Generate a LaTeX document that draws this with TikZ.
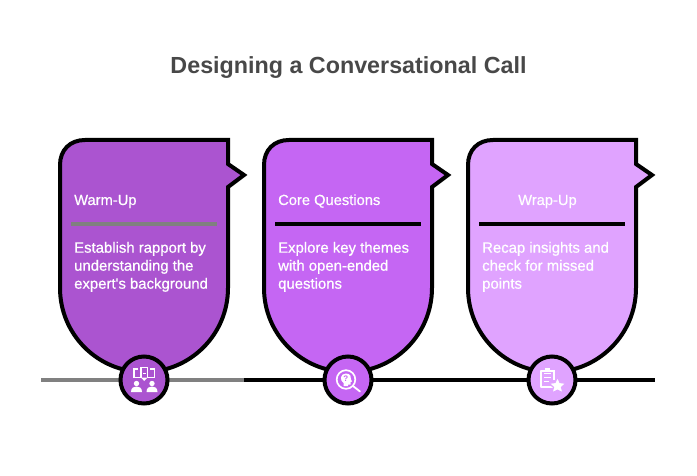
\documentclass[tikz,border=0pt]{standalone}
\usepackage{fontspec}
\setmainfont{Liberation Sans}
\newfontfamily\medfont[FakeBold=0.6]{Liberation Sans}
\definecolor{cardA}{HTML}{AB54D0}
\definecolor{cardB}{HTML}{C566F3}
\definecolor{cardC}{HTML}{E0A3FF}
\definecolor{titlegray}{HTML}{484848}
\definecolor{linegray}{HTML}{808080}
\tikzset{
  card/.style={draw=black,line width=4pt,line join=miter},
  badge/.style={circle,draw=black,line width=4pt,minimum size=47pt,inner sep=0pt},
  head/.style={text=white,font=\medfont\fontsize{14.7}{17}\selectfont,anchor=base west,inner sep=0pt},
  body/.style={text=white,font=\medfont\fontsize{14.9}{18}\selectfont,anchor=north west,inner sep=0pt,align=left},
  rule/.style={line width=3.5pt},
  base/.style={line width=4pt},
  icoline/.style={draw=white,line width=1.2pt,fill=none},
}
\newcommand{\cardshape}[2]{% x offset, colour
  \begin{scope}[xshift=#1pt]
    \path[card,fill=#2] (60,165) .. controls (60,150) and (70,140) .. (85,140)
      -- (228,140) -- (228,164) -- (244,175) -- (228,187) -- (228,288)
      arc[start angle=0,end angle=180,radius=84] -- cycle;
  \end{scope}}
\begin{document}
\begin{tikzpicture}[x=1pt,y=-1pt]
\useasboundingbox (0,0) rectangle (697,476);
\fill[white] (0,0) rectangle (697,476);
\node[text=titlegray,font=\bfseries\fontsize{23.3}{28}\selectfont,anchor=base,inner sep=0pt] (title) at (348.5,74) {Designing a Conversational Call};
\cardshape{0}{cardA}
\cardshape{204}{cardB}
\cardshape{408}{cardC}
\coordinate (b0) at (41,380);
\coordinate (b1) at (244,380);
\coordinate (b2) at (655,380);
\draw[base,linegray] (b0) -- (b1);
\draw[base,black] (b1) -- (b2);
\node[head] (h1) at (74,205) {Warm-Up};
\node[head] (h2) at (278,205) {Core Questions};
\node[head] (h3) at (518,205) {Wrap-Up};
\draw[rule,linegray] (71,224) -- (217,224);
\draw[rule,black] (275,224) -- (421,224);
\draw[rule,black] (479,224) -- (625,224);
\node[body] (t1) at (74,241.7) {Establish rapport by\\understanding the\\expert's background};
\node[body] (t2) at (278,241.7) {Explore key themes\\with open-ended\\questions};
\node[body] (t3) at (482,241.7) {Recap insights and\\check for missed\\points};
\node[badge,fill=cardA] (c1) at (144,380) {};
\node[badge,fill=cardB] (c2) at (348,380) {};
\node[badge,fill=cardC] (c3) at (552,380) {};
% book and two people
\begin{scope}[shift={(144,380)}]
  \draw[icoline] (-6,-11) -- (-10,-11) -- (-10,-2.5) -- (-3,-2.5);
  \draw[icoline] (6,-11) -- (10.5,-11) -- (10.5,-2.5) -- (3,-2.5);
  \draw[icoline] (-3,-2.5) -- (-3,-12.5) -- (3.5,-12.5) -- (3.5,-2.5);
  \draw[icoline,line width=1pt] (-1,-7) -- (1.5,-7);
  \fill[white] (-3,-2.5) -- (3.5,-2.5) -- (0.2,1) -- cycle;
  \fill[white] (-7.5,3.5) circle (2.7);
  \fill[white] (8,3.5) circle (2.7);
  \fill[white] (-13,12) .. controls (-13,7.5) and (-10,6.5) .. (-7.5,6.5) .. controls (-5,6.5) and (-2,7.5) .. (-2,12) -- cycle;
  \fill[white] (2.5,12) .. controls (2.5,7.5) and (5.5,6.5) .. (8,6.5) .. controls (10.5,6.5) and (13.5,7.5) .. (13.5,12) -- cycle;
\end{scope}
% head with question mark in magnifier
\begin{scope}[shift={(346,379.5)}]
  \draw[icoline,line width=1.7pt] (0,0) circle (9.3);
  \draw[icoline,line width=1.8pt,line cap=round] (7,6.5) -- (14,12);
  \fill[white] (-2.5,6.5) -- (-2.5,3.5) .. controls (-6.5,1) and (-6,-6) .. (0,-6) .. controls (4.5,-6) and (5.5,-2.5) .. (5,0) -- (6,2) -- (4.5,2.5) -- (4.5,5) -- (2,5) -- (2,6.5) -- cycle;
  \node[text=cardB,font=\bfseries\fontsize{8}{9}\selectfont,inner sep=0pt] (q) at (-0.3,-1.2) {?};
\end{scope}
% clipboard with star
\begin{scope}[shift={(552,380)}]
  \draw[icoline,line width=2pt,line join=round] (-7,-9.5) -- (-11.5,-9.5) -- (-11.5,7) -- (1,7);
  \draw[icoline,line width=2pt] (-3,-9.5) -- (1.5,-9.5) -- (1.5,0);
  \fill[white] (-7.5,-12) -- (-2.5,-12) -- (-2.5,-8.5) -- (-7.5,-8.5) -- cycle;
  \fill[white] (-8,-7.2) -- (-1,-7.2) -- (-1,-5.6) -- (-8,-5.6) -- cycle;
  \fill[white] (-8,-3.2) -- (-1,-3.2) -- (-1,-1.6) -- (-8,-1.6) -- cycle;
  \fill[white] (-8,0.8) -- (-3,0.8) -- (-3,2.4) -- (-8,2.4) -- cycle;
  \path[fill=white,draw=cardC,line width=1.2pt,line join=round] (5.5,-3) -- (8,2.5) -- (14,3.3) -- (9.5,7.3) -- (11,13) -- (5.5,10.2) -- (0,13) -- (1.5,7.3) -- (-3,3.3) -- (3,2.5) -- cycle;
\end{scope}
\end{tikzpicture}
\end{document}
